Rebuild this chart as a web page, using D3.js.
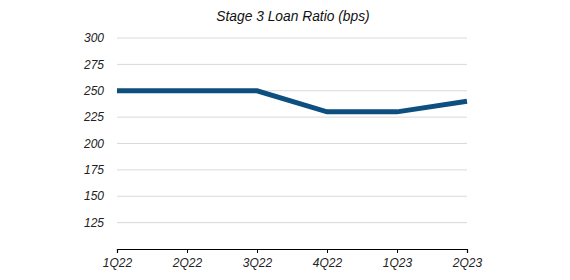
<!DOCTYPE html>
<html>
<head>
<script src="https://cdn.jsdelivr.net/npm/d3@7"></script>
<style>
  body { margin: 0; background: #fff; }
  text { font-family: "Liberation Sans", Arial, sans-serif; font-style: italic; }
</style>
</head>
<body>
<div id="chart"></div>
<script>
// data
const quarters = ["1Q22", "2Q22", "3Q22", "4Q22", "1Q23", "2Q23"];
const ratio = [250, 250, 250, 230, 230, 240];
const yTicks = [125, 150, 175, 200, 225, 250, 275, 300];

const W = 570, H = 280;
const margin = { left: 117, right: 467, top: 38, bottom: 249 };

const svg = d3.select("#chart").append("svg")
  .attr("width", W).attr("height", H);

const x = d3.scalePoint().domain(quarters).range([margin.left, margin.right]);
const y = d3.scaleLinear().domain([100, 300]).range([margin.bottom, margin.top]);

// gridlines + y labels
svg.append("g")
  .selectAll("line")
  .data(yTicks)
  .enter().append("line")
  .attr("x1", margin.left).attr("x2", margin.right)
  .attr("y1", d => y(d)).attr("y2", d => y(d))
  .attr("stroke", "#d9d9d9").attr("stroke-width", 1);

svg.append("g")
  .selectAll("text")
  .data(yTicks)
  .enter().append("text")
  .attr("x", 104)
  .attr("y", d => y(d))
  .attr("dy", "0.35em")
  .attr("text-anchor", "end")
  .attr("font-size", 12)
  .attr("fill", "#222")
  .text(d => d);

// x axis
const xAxis = svg.append("g")
  .attr("transform", "translate(0," + margin.bottom + ")")
  .call(d3.axisBottom(x).tickSize(4).tickPadding(5));
xAxis.select(".domain").attr("stroke", "#000").attr("stroke-width", 1.2);
xAxis.selectAll(".tick line").attr("stroke", "#000");
xAxis.selectAll("text")
  .attr("font-size", 12)
  .attr("fill", "#222")
  .style("font-family", "'Liberation Sans', Arial, sans-serif")
  .style("font-style", "italic");

// line
const line = d3.line()
  .x((d, i) => x(quarters[i]))
  .y(d => y(d));

svg.append("path")
  .datum(ratio)
  .attr("d", line)
  .attr("fill", "none")
  .attr("stroke", "#0d4f7f")
  .attr("stroke-width", 5);

// title
svg.append("text")
  .attr("x", 293).attr("y", 21)
  .attr("text-anchor", "middle")
  .attr("font-size", 13.8)
  .attr("fill", "#111")
  .text("Stage 3 Loan Ratio (bps)");
</script>
</body>
</html>
